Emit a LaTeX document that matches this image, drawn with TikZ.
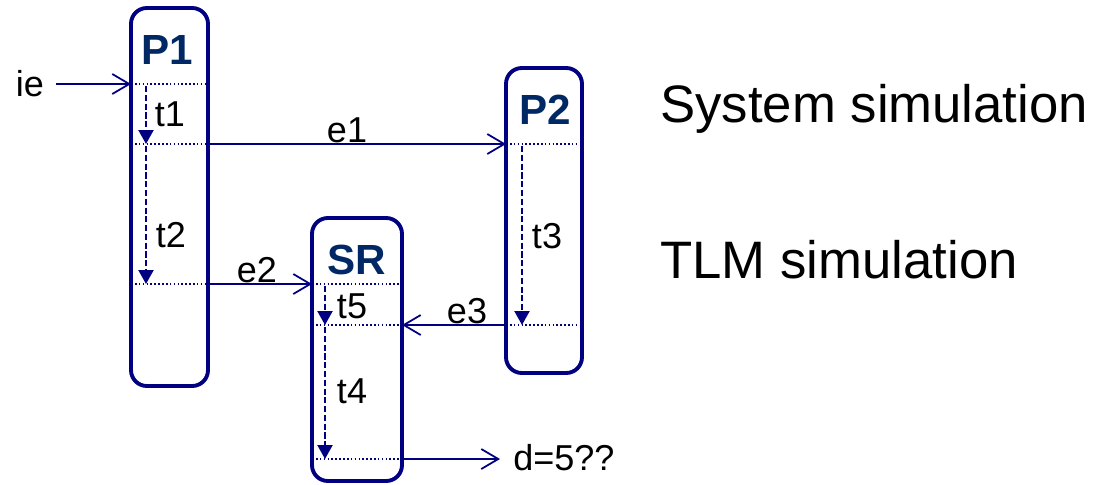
\documentclass[tikz,border=0pt]{standalone}
\usepackage{fontspec}
\setmainfont{Liberation Sans}
\usetikzlibrary{arrows.meta,fit}
\definecolor{navy}{RGB}{0,0,128}
\definecolor{titleblue}{RGB}{0,40,100}
\tikzset{
  lane/.style={draw=navy, line width=2.2pt, rounded corners=9pt, inner sep=0pt},
  ttl/.style={font=\fontsize{24}{28}\selectfont\bfseries, text=titleblue, inner sep=0pt},
  lbl/.style={font=\fontsize{20.5}{24}\selectfont, inner sep=0pt},
  big/.style={font=\fontsize{30}{36}\selectfont, inner sep=0pt, anchor=base west},
  tick/.style={draw=navy, line width=0.9pt, dash pattern=on 0.9pt off 1.3pt},
  msg/.style={draw=navy, line width=1pt, -{Straight Barb[length=3.4mm, width=4mm, line width=1pt]}},
  dur/.style={draw=navy, line width=1.2pt, dash pattern=on 3.5pt off 1.5pt, -{Triangle[length=2.8mm, width=3mm]}}
}
\begin{document}
\begin{tikzpicture}[x=0.02cm, y=-0.02cm]
\useasboundingbox (0,0) rectangle (1097,484);
% boxes
\node[lane, fit={(131,8) (208,386)}] (P1) {};
\node[lane, fit={(506,68) (582,373)}] (P2) {};
\node[lane, fit={(312,218) (402,481)}] (SR) {};
\node[ttl] (P1t) at (167,50) {P1};
\node[ttl] (P2t) at (545,110) {P2};
\node[ttl] (SRt) at (357,260) {SR};
% time points
\coordinate (a1) at (131,84);  \coordinate (a2) at (208,144); \coordinate (a3) at (208,284);
\coordinate (b1) at (506,144); \coordinate (b2) at (506,325);
\coordinate (c1) at (312,284); \coordinate (c2) at (402,325); \coordinate (c3) at (402,459);
% dotted ticks
\draw[tick] (135,84) -- (205,84);
\draw[tick] (135,144) -- (205,144);
\draw[tick] (135,284) -- (205,284);
\draw[tick] (510,144) -- (579,144);
\draw[tick] (510,325) -- (579,325);
\draw[tick] (316,284) -- (399,284);
\draw[tick] (316,325) -- (399,325);
\draw[tick] (316,459) -- (399,459);
% durations
\coordinate (d1a) at (146,86);  \coordinate (d1b) at (146,144);
\coordinate (d2a) at (146,146); \coordinate (d2b) at (146,284);
\coordinate (d3a) at (522,146); \coordinate (d3b) at (522,325);
\coordinate (d5a) at (325,286); \coordinate (d5b) at (325,325);
\coordinate (d4a) at (325,327); \coordinate (d4b) at (325,459);
\draw[dur] (d1a) -- (d1b);
\draw[dur] (d2a) -- (d2b);
\draw[dur] (d3a) -- (d3b);
\draw[dur] (d5a) -- (d5b);
\draw[dur] (d4a) -- (d4b);
\node[lbl] (t1) at (170,114) {t1};
\node[lbl] (t2) at (171,235) {t2};
\node[lbl] (t3) at (547,236) {t3};
\node[lbl] (t5) at (352,306) {t5};
\node[lbl] (t4) at (352,391) {t4};
% messages
\node[lbl] (ie) at (30,84) {ie};
\coordinate (ies) at (56,84);
\draw[msg] (ies) -- (a1);
\draw[msg] (a2) -- (b1);
\node[lbl] (e1) at (347,130) {e1};
\draw[msg] (a3) -- (c1);
\node[lbl] (e2) at (257,270) {e2};
\draw[msg] (b2) -- (c2);
\node[lbl] (e3) at (467,311) {e3};
\coordinate (dout) at (500,459);
\draw[msg] (c3) -- (dout);
\node[lbl, anchor=west] (d) at (513,458) {d=5??};
% right texts
\node[big] (sys) at (660,122) {System simulation};
\node[big] (tlm) at (660,278) {TLM simulation};
\end{tikzpicture}
\end{document}
